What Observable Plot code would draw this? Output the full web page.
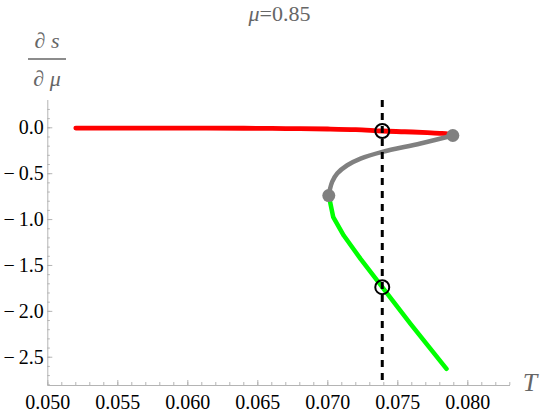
<!DOCTYPE html>
<html><head><meta charset="utf-8">
<script src="https://cdn.jsdelivr.net/npm/d3@7"></script>
<script src="https://cdn.jsdelivr.net/npm/@observablehq/plot@0.6"></script>
<style>
body{margin:0;background:#fff}
#chart{width:540px;height:415px}
#chart svg, #chart svg text{font-family:"Liberation Serif","Times New Roman","DejaVu Serif",serif !important}
</style>
</head><body><div id="chart"></div>
<script>
// Data
const redT  = [0.0520, 0.0560, 0.0600, 0.0640, 0.0670, 0.0700, 0.0720, 0.0739, 0.0755, 0.0771, 0.0780, 0.0786, 0.07893];
const redS  = [-0.003, -0.003, -0.004, -0.005, -0.008, -0.013, -0.020, -0.035, -0.043, -0.052, -0.060, -0.069, -0.084];
const grayT = [0.07893, 0.07662, 0.07389, 0.07234, 0.07139, 0.07067, 0.07031, 0.07014, 0.07007];
const grayS = [-0.084, -0.171, -0.262, -0.335, -0.408, -0.498, -0.589, -0.680, -0.738];
const greenT = [0.07007, 0.07039, 0.07114, 0.07234, 0.07389, 0.07591, 0.07848];
const greenS = [-0.738, -0.974, -1.174, -1.428, -1.737, -2.136, -2.626];
const spinodalT = [0.07893, 0.07007];
const spinodalS = [-0.084, -0.738];
const crossT = [0.07389, 0.07389];
const crossS = [-0.035, -1.737];
const criticalT = [0.07389];
const xTicks = [0.050, 0.055, 0.060, 0.065, 0.070, 0.075, 0.080];
const yTicks = [-2.5, -2.0, -1.5, -1.0, -0.5, 0.0];
const xDomain = [0.050, 0.08305];
const yDomain = [-2.808, 0.2975];

const W = 540, H = 415, mL = 47.3, mR = 30, mT = 100, mB = 30;
const innerW = W - mL - mR, innerH = H - mT - mB;
const pts = (T, S) => T.map((t, i) => ({t, s: S[i]}));
const xMinor = d3.range(50, 84).map(d => d / 1000).filter(d => d <= xDomain[1]);
const yMinor = d3.range(-28, 3).map(d => d / 10);
const tickCol = "#b4b4b4";
const serif = "'Liberation Serif','Times New Roman','DejaVu Serif',serif";

const plot = Plot.plot({
  width: W, height: H,
  marginLeft: mL, marginRight: mR, marginTop: mT, marginBottom: mB,
  x: {domain: xDomain},
  y: {domain: yDomain},
  style: {fontFamily: serif, fontSize: "20px", color: "black", background: "white"},
  marks: [
    Plot.ruleY([yDomain[0]], {stroke: tickCol, strokeWidth: 1}),
    Plot.ruleX([xDomain[0]], {stroke: tickCol, strokeWidth: 1}),
    Plot.tickX(xMinor, {x: d => d, insetTop: innerH - 3, stroke: tickCol}),
    Plot.tickX(xTicks, {x: d => d, insetTop: innerH - 5, stroke: tickCol}),
    Plot.tickY(yMinor, {y: d => d, insetRight: innerW - 2.5, stroke: tickCol}),
    Plot.tickY(yTicks, {y: d => d, insetRight: innerW - 5, stroke: tickCol}),
    Plot.axisX({ticks: xTicks, tickSize: 0, tickPadding: 9, tickFormat: d3.format(".3f"), label: null, fill: "black", fontFamily: serif}),
    Plot.axisY({ticks: yTicks, tickSize: 0, tickPadding: 4, tickFormat: d => d3.format(".1f")(d).replace("−", "−\u2009"), label: null, fill: "black", fontFamily: serif}),
    Plot.line(pts(redT, redS), {x: "t", y: "s", stroke: "#ff0000", strokeWidth: 4.8, curve: "catmull-rom"}),
    Plot.line(pts(grayT, grayS), {x: "t", y: "s", stroke: "#808080", strokeWidth: 4.5, curve: "catmull-rom"}),
    Plot.line(pts(greenT, greenS), {x: "t", y: "s", stroke: "#00ff00", strokeWidth: 4.5}),
    Plot.ruleX(criticalT, {x: d => d, stroke: "black", strokeWidth: 3, strokeDasharray: "7,6"}),
    Plot.dot(pts(spinodalT, spinodalS), {x: "t", y: "s", r: 6.5, fill: "#808080", stroke: "none"}),
    Plot.dot(pts(crossT, crossS), {x: "t", y: "s", r: 7, fill: "none", stroke: "black", strokeWidth: 2})
  ]
});
document.getElementById("chart").appendChild(plot);

const svg = d3.select(plot);
const lab = "#666666";
const addText = (x, y, size) => svg.append("text").attr("x", x).attr("y", y).attr("text-anchor", "middle")
  .attr("font-family", serif).attr("font-size", size).attr("fill", lab);
// title
const title = addText(279.5, 21, 22);
title.append("tspan").attr("font-style", "italic").text("μ");
title.append("tspan").text("=0.85");
// y label as fraction ∂s/∂μ
const num = addText(47, 48, 22);
num.append("tspan").text("∂ ");
num.append("tspan").attr("font-style", "italic").text("s");
svg.append("line").attr("x1", 28).attr("x2", 66).attr("y1", 59).attr("y2", 59)
  .attr("stroke", lab).attr("stroke-width", 1.5);
const den = addText(47, 86, 22);
den.append("tspan").text("∂ ");
den.append("tspan").attr("font-style", "italic").text("μ");
// x label
addText(530, 391, 26).attr("font-style", "italic").text("T");
</script>
</body></html>
